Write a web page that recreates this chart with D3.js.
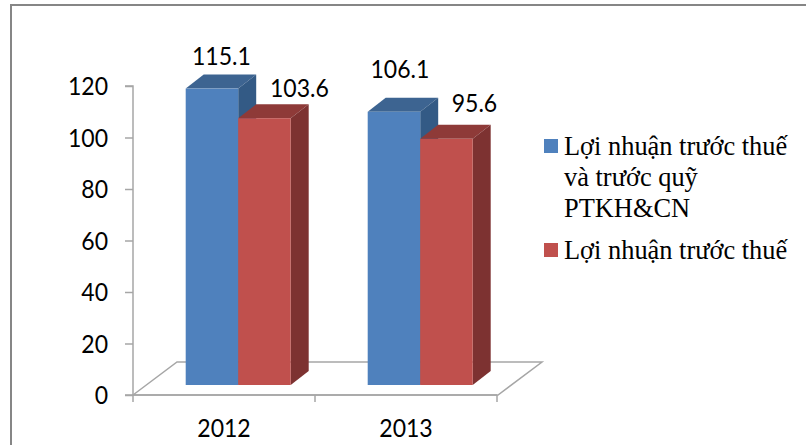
<!DOCTYPE html>
<html>
<head>
<meta charset="utf-8">
<script src="https://cdn.jsdelivr.net/npm/d3@7"></script>
<style>
  html, body { margin: 0; background: #fff; }
  svg { display: block; }
  .num { font-family: Lato, "Open Sans", sans-serif; font-size: 24.5px; fill: #000; }
  .leg { font-family: "Liberation Serif", serif; font-size: 26.4px; fill: #000; }
</style>
</head>
<body>
<svg id="chart" width="806" height="445"></svg>
<script>
const years = ['2012', '2013'];
const seriesNames = ['Lợi nhuận trước thuế và trước quỹ PTKH&CN', 'Lợi nhuận trước thuế'];
const series1 = [115.1, 106.1];
const series2 = [103.6, 95.6];
const yTicks = [0, 20, 40, 60, 80, 100, 120];
const legendLines = [['Lợi nhuận trước thuế', 'và trước quỹ', 'PTKH&CN'], ['Lợi nhuận trước thuế']];
const faces = [
  { front: '#4f81bd', top: '#3d6491', side: '#335a85' },
  { front: '#c0504d', top: '#8e3a38', side: '#7d3231' }
];
// value labels were dragged by hand in the original, so each has its own nudge [dx, dy]
const labelNudge = [
  [[9.5, -24], [6, -34]],
  [[35, -21], [28, -27]]
];

let svg = d3.select('#chart');

// outer frame, only top and left are in the crop
svg.append('path')
  .attr('d', 'M11,445V5H806')
  .attr('fill', 'none').attr('stroke', '#868686').attr('stroke-width', 2);

let y = d3.scaleLinear().domain([0, 120]).range([395, 86]);
let x = d3.scaleBand().domain(years).range([133, 497]);
let xInner = d3.scaleBand().domain([0, 1]).range([0, 105]);

const depthX = 18, depthY = 14;
const floorDX = 44, floorDY = 33;
const barLift = 10, barShift = 52.7;

// floor
let floor = d3.path();
floor.moveTo(x.range()[0], y(0));
floor.lineTo(x.range()[0] + floorDX, y(0) - floorDY);
floor.lineTo(x.range()[1] + floorDX + 1, y(0) - floorDY);
floor.lineTo(x.range()[1] + 1, y(0));
floor.closePath();
svg.append('path').attr('d', floor.toString()).attr('fill', 'none')
  .attr('stroke', '#a6a6a6').attr('stroke-width', 1.5);

// axes
let yAxis = d3.axisLeft(y).tickValues(yTicks).tickSize(8).tickPadding(17);
let yG = svg.append('g').attr('transform', 'translate(133,0)').call(yAxis);
yG.selectAll('text').attr('class', 'num').attr('dy', '0.35em');

let xAxis = d3.axisBottom(x).tickSize(0).tickPadding(25);
let xG = svg.append('g').attr('transform', `translate(0,${y(0)})`).call(xAxis);
xG.selectAll('text').attr('class', 'num').attr('dy', '0.71em');
xG.selectAll('.tick line').remove();
xG.selectAll('.edge').data([133, 315, 497]).enter().append('line')
  .attr('class', 'edge').attr('x1', d => d).attr('x2', d => d)
  .attr('y1', 0).attr('y2', 7).attr('stroke', '#a6a6a6').attr('stroke-width', 1.5);
[yG, xG].forEach(g => {
  g.selectAll('.domain').attr('stroke', '#a6a6a6').attr('stroke-width', 1.5);
  g.selectAll('.tick line').attr('stroke', '#a6a6a6').attr('stroke-width', 1.5);
});
xG.select('.domain').attr('d', 'M133,0H497');
yG.select('.domain').attr('d', `M-8,${y(120)}H0V${y(0)}H-8`);

// bars, back faces first so the red box sits over the blue side
let labels = svg.append('g');
[series1, series2].forEach((vals, s) => {
  let col = faces[s];
  let g = svg.append('g').attr('class', 'series');
  vals.forEach((v, i) => {
    let x0 = x(years[i]) + barShift + xInner(s);
    let w = xInner.bandwidth();
    let yb = y(0) - barLift;
    let yt = y(v) - barLift;
    g.append('polygon')
      .attr('points', [[x0, yt], [x0 + depthX, yt - depthY], [x0 + w + depthX, yt - depthY], [x0 + w, yt]].join(' '))
      .attr('fill', col.top);
    g.append('polygon')
      .attr('points', [[x0 + w, yt], [x0 + w + depthX, yt - depthY], [x0 + w + depthX, yb - depthY], [x0 + w, yb]].join(' '))
      .attr('fill', col.side);
    g.append('rect').attr('x', x0).attr('y', yt).attr('width', w).attr('height', yb - yt).attr('fill', col.front);
    labels.append('text').attr('class', 'num').attr('text-anchor', 'middle')
      .attr('x', x0 + w / 2 + labelNudge[s][i][0]).attr('y', yt + labelNudge[s][i][1])
      .text(v.toFixed(1));
  });
});
labels.raise();

// Lato runs wider than the original face, squeeze the numbers a bit
svg.selectAll('text.num').each(function () {
  let t = d3.select(this);
  t.attr('textLength', this.getComputedTextLength() * 0.94).attr('lengthAdjust', 'spacingAndGlyphs');
});

// legend
let legY = [146, 250];
legendLines.forEach((lines, s) => {
  svg.append('rect').attr('x', 544).attr('y', legY[s] - 7).attr('width', 14).attr('height', 14).attr('fill', faces[s].front);
  lines.forEach((t, k) => {
    svg.append('text').attr('class', 'leg').attr('x', 564).attr('y', legY[s] + 9 + k * 31).text(t);
  });
});
</script>
</body>
</html>
